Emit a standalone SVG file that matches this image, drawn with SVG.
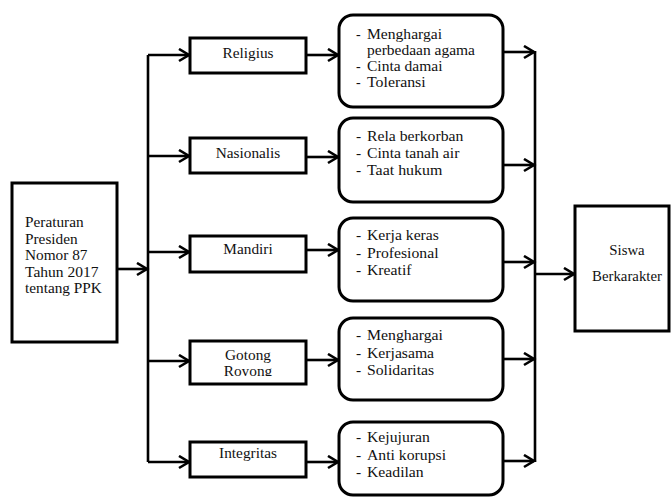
<svg xmlns="http://www.w3.org/2000/svg" width="671" height="498" viewBox="0 0 671 498">
<style>
  text { font-family: "Liberation Serif", "Times New Roman", Tinos, "DejaVu Serif", Times, serif; font-size: 15.5px; fill: #111; }
  .c { text-anchor: middle; }
  .sm { font-size: 15.3px; }
  .xs { font-size: 14px; }
  .box { fill: #fff; stroke: #000; stroke-width: 3; }
  .list { fill: #fff; stroke: #000; stroke-width: 3; }
  .conn { fill: none; stroke: #000; stroke-width: 2.6; }
</style>
<defs>
  <marker id="arr" markerUnits="userSpaceOnUse" markerWidth="14" markerHeight="16" refX="11" refY="7" orient="auto">
    <path d="M1,1 L11,7 L1,13" fill="none" stroke="#000" stroke-width="2.6"/>
  </marker>
  <clipPath id="clipGotong"><rect x="190" y="341" width="116" height="35"/></clipPath>
</defs>
<rect width="671" height="498" fill="#fff"/>

<g id="connectors">
  <path class="conn" d="M117,269 H147" marker-end="url(#arr)"/>
  <path class="conn" d="M148,55 V462"/>
  <path class="conn" d="M148,55 H189" marker-end="url(#arr)"/>
  <path class="conn" d="M148,156 H189" marker-end="url(#arr)"/>
  <path class="conn" d="M148,252 H189" marker-end="url(#arr)"/>
  <path class="conn" d="M148,361 H189" marker-end="url(#arr)"/>
  <path class="conn" d="M148,462 H189" marker-end="url(#arr)"/>
  <path class="conn" d="M306,55 H338" marker-end="url(#arr)"/>
  <path class="conn" d="M306,157 H338" marker-end="url(#arr)"/>
  <path class="conn" d="M306,250 H338" marker-end="url(#arr)"/>
  <path class="conn" d="M306,360 H338" marker-end="url(#arr)"/>
  <path class="conn" d="M306,462 H338" marker-end="url(#arr)"/>
  <path class="conn" d="M503,52 H534" marker-end="url(#arr)"/>
  <path class="conn" d="M503,165 H534" marker-end="url(#arr)"/>
  <path class="conn" d="M503,262 H534" marker-end="url(#arr)"/>
  <path class="conn" d="M503,359 H534" marker-end="url(#arr)"/>
  <path class="conn" d="M503,461 H534" marker-end="url(#arr)"/>
  <path class="conn" d="M535,51 V462"/>
  <path class="conn" d="M535,274 H574" marker-end="url(#arr)"/>
</g>

<g id="perpres">
  <rect class="box" x="12" y="183" width="105" height="159"/>
  <text class="sm" x="25" y="227" textLength="58.6" lengthAdjust="spacingAndGlyphs">Peraturan</text>
  <text class="sm" x="25" y="243.5" textLength="52.7" lengthAdjust="spacingAndGlyphs">Presiden</text>
  <text class="sm" x="25" y="260" textLength="62.5" lengthAdjust="spacingAndGlyphs">Nomor 87</text>
  <text class="sm" x="25" y="276.5" textLength="73.5" lengthAdjust="spacingAndGlyphs">Tahun 2017</text>
  <text class="sm" x="25" y="293" textLength="76.9" lengthAdjust="spacingAndGlyphs">tentang PPK</text>
</g>

<g id="religius">
  <rect class="box" x="190" y="38" width="116" height="35"/>
  <text class="c sm" x="248" y="58" textLength="51" lengthAdjust="spacingAndGlyphs">Religius</text>
</g>
<g id="nasionalis">
  <rect class="box" x="190" y="138" width="116" height="35"/>
  <text class="c sm" x="248" y="158" textLength="64.6" lengthAdjust="spacingAndGlyphs">Nasionalis</text>
</g>
<g id="mandiri">
  <rect class="box" x="190" y="236" width="116" height="36"/>
  <text class="c sm" x="248" y="254" textLength="49.3" lengthAdjust="spacingAndGlyphs">Mandiri</text>
</g>
<g id="gotong-royong">
  <rect class="box" x="190" y="341" width="116" height="43"/>
  <g clip-path="url(#clipGotong)">
    <text class="c sm" x="248" y="360" textLength="45.9" lengthAdjust="spacingAndGlyphs">Gotong</text>
    <text class="c sm" x="248" y="376" textLength="48.5" lengthAdjust="spacingAndGlyphs">Royong</text>
  </g>
</g>
<g id="integritas">
  <rect class="box" x="190" y="442" width="116" height="35"/>
  <text class="c sm" x="248" y="458" textLength="57.8" lengthAdjust="spacingAndGlyphs">Integritas</text>
</g>

<g id="list-religius">
  <rect class="list" x="339" y="15" width="164" height="92" rx="14"/>
  <text class="xs" y="39"><tspan x="356">- </tspan><tspan x="367" textLength="75" lengthAdjust="spacingAndGlyphs">Menghargai</tspan></text>
  <text class="xs" x="367" y="55" textLength="108" lengthAdjust="spacingAndGlyphs">perbedaan agama</text>
  <text class="xs" y="71"><tspan x="356">- </tspan><tspan x="367" textLength="75.5" lengthAdjust="spacingAndGlyphs">Cinta damai</tspan></text>
  <text class="xs" y="87"><tspan x="356">- </tspan><tspan x="367" textLength="58.7" lengthAdjust="spacingAndGlyphs">Toleransi</tspan></text>
</g>
<g id="list-nasionalis">
  <rect class="list" x="339" y="118" width="164" height="84" rx="14"/>
  <text y="141"><tspan x="356">- </tspan><tspan x="367" textLength="96.4" lengthAdjust="spacingAndGlyphs">Rela berkorban</tspan></text>
  <text y="158"><tspan x="356">- </tspan><tspan x="367" textLength="92.4" lengthAdjust="spacingAndGlyphs">Cinta tanah air</tspan></text>
  <text y="175"><tspan x="356">- </tspan><tspan x="367" textLength="75.4" lengthAdjust="spacingAndGlyphs">Taat hukum</tspan></text>
</g>
<g id="list-mandiri">
  <rect class="list" x="339" y="218" width="164" height="83" rx="14"/>
  <text y="240"><tspan x="356">- </tspan><tspan x="367" textLength="71.9" lengthAdjust="spacingAndGlyphs">Kerja keras</tspan></text>
  <text y="257.5"><tspan x="356">- </tspan><tspan x="367" textLength="71.5" lengthAdjust="spacingAndGlyphs">Profesional</tspan></text>
  <text y="275"><tspan x="356">- </tspan><tspan x="367" textLength="44.5" lengthAdjust="spacingAndGlyphs">Kreatif</tspan></text>
</g>
<g id="list-gotong-royong">
  <rect class="list" x="339" y="318" width="164" height="82" rx="14"/>
  <text y="340"><tspan x="356">- </tspan><tspan x="367" textLength="75.9" lengthAdjust="spacingAndGlyphs">Menghargai</tspan></text>
  <text y="357.5"><tspan x="356">- </tspan><tspan x="367" textLength="67.1" lengthAdjust="spacingAndGlyphs">Kerjasama</tspan></text>
  <text y="375"><tspan x="356">- </tspan><tspan x="367" textLength="67.2" lengthAdjust="spacingAndGlyphs">Solidaritas</tspan></text>
</g>
<g id="list-integritas">
  <rect class="list" x="339" y="422" width="164" height="73" rx="14"/>
  <text y="442"><tspan x="356">- </tspan><tspan x="367" textLength="62.8" lengthAdjust="spacingAndGlyphs">Kejujuran</tspan></text>
  <text y="460"><tspan x="356">- </tspan><tspan x="367" textLength="79" lengthAdjust="spacingAndGlyphs">Anti korupsi</tspan></text>
  <text y="477"><tspan x="356">- </tspan><tspan x="367" textLength="56.7" lengthAdjust="spacingAndGlyphs">Keadilan</tspan></text>
</g>

<g id="siswa">
  <rect class="box" x="575" y="206" width="94" height="125"/>
  <text class="c" x="627" y="255" style="font-size:14.8px" textLength="35.4" lengthAdjust="spacingAndGlyphs">Siswa</text>
  <text class="c" x="627" y="281" style="font-size:14.8px" textLength="70" lengthAdjust="spacingAndGlyphs">Berkarakter</text>
</g>
</svg>
